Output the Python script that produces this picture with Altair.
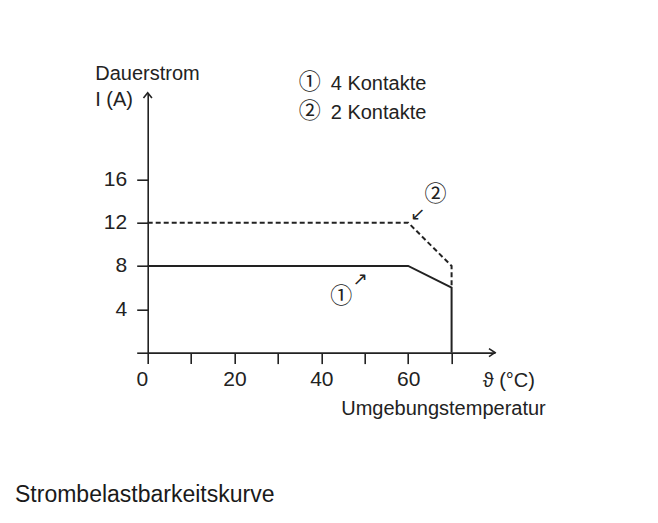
import altair as alt
import pandas as pd

# ---- data ----
temp_4k = [0, 60, 70, 70]          # 4 Kontakte (solid)
curr_4k = [8, 8, 6, 0]
temp_2k = [0, 60, 70, 70]          # 2 Kontakte (dashed)
curr_2k = [12, 12, 8, 6]
x_tick_values = [0, 10, 20, 30, 40, 50, 60, 70]
y_tick_values = [0, 4, 8, 12, 16]
legend_marks = ["\u2460", "\u2461"]
legend_texts = ["4 Kontakte", "2 Kontakte"]
annot_marks = ["\u2460", "\u2461"]
annot_t = [44.6, 66.3]
annot_i = [5.2, 14.6]
arrow_glyphs = ["\u2197", "\u2199"]
arrow_t = [49.0, 62.2]
arrow_i = [6.7, 12.7]

FONT = "Liberation Sans, Arial, sans-serif"
SYM_FONT = "Noto Sans CJK JP, DejaVu Sans, sans-serif"
ARR_FONT = "DejaVu Sans, sans-serif"
INK = "#222222"

df4 = pd.DataFrame({"t": temp_4k, "i": curr_4k, "o": range(len(temp_4k))})
df2 = pd.DataFrame({"t": temp_2k, "i": curr_2k, "o": range(len(temp_2k))})

x_enc = alt.X(
    "t:Q",
    scale=alt.Scale(domain=[0, 80], nice=False, zero=False),
    axis=alt.Axis(
        values=x_tick_values,
        labelExpr="(datum.value % 20 == 0 && datum.value <= 60) ? datum.label : ''",
        labelAlign={"condition": {"test": "datum.value == 0", "value": "right"}, "value": "center"},
        labelPadding=5,
        grid=False,
        title="Umgebungstemperatur",
        titleX=193,
        titleY=62,
        titleAlign="left",
        titleBaseline="alphabetic",
    ),
)
y_enc = alt.Y(
    "i:Q",
    scale=alt.Scale(domain=[0, 24], nice=False),
    axis=alt.Axis(
        values=y_tick_values,
        labelExpr="datum.value == 0 ? '' : datum.label",
        labelPadding=10,
        grid=False,
        title=["Dauerstrom", "I (A)"],
        titleAngle=0,
        titleAlign="left",
        titleBaseline="alphabetic",
        titleX=-53,
        titleY=-13.4,
        titleLineHeight=26.7,
    ),
)

solid = alt.Chart(df4).mark_line(color=INK, strokeWidth=2).encode(x=x_enc, y=y_enc, order="o:Q")
dashed = alt.Chart(df2).mark_line(color=INK, strokeWidth=2, strokeDash=[5, 3]).encode(
    x=x_enc, y=y_enc, order="o:Q"
)

x_arrow = alt.Chart(pd.DataFrame({"t": [80], "i": [0]})).mark_point(
    shape="M-1,-0.67L0,0L-1,0.67", size=144, filled=False, stroke=INK, strokeWidth=1.6, opacity=1
).encode(x=x_enc, y=y_enc)
y_arrow = alt.Chart(pd.DataFrame({"t": [0], "i": [24]})).mark_point(
    shape="M-0.8,1L0,0L0.8,1", size=112, filled=False, stroke=INK, strokeWidth=1.6, opacity=1
).encode(x=x_enc, y=y_enc)

annot = alt.Chart(pd.DataFrame({"t": annot_t, "i": annot_i, "s": annot_marks})).mark_text(
    font=SYM_FONT, fontSize=22, color=INK, baseline="middle", align="center"
).encode(x=x_enc, y=y_enc, text="s:N")
arrows = alt.Chart(pd.DataFrame({"t": arrow_t, "i": arrow_i, "s": arrow_glyphs})).mark_text(
    font=ARR_FONT, fontSize=18, color=INK, baseline="middle", align="center"
).encode(x=x_enc, y=y_enc, text="s:N")

leg_sym1 = alt.Chart(pd.DataFrame({"s": [legend_marks[0]]})).mark_text(
    font=SYM_FONT, fontSize=22, color=INK, baseline="middle", align="center"
).encode(x=alt.value(162), y=alt.value(-10.7), text="s:N")
leg_sym2 = alt.Chart(pd.DataFrame({"s": [legend_marks[1]]})).mark_text(
    font=SYM_FONT, fontSize=22, color=INK, baseline="middle", align="center"
).encode(x=alt.value(162), y=alt.value(18.3), text="s:N")
leg_txt1 = alt.Chart(pd.DataFrame({"s": [legend_texts[0]]})).mark_text(
    font=FONT, fontSize=20, color=INK, baseline="alphabetic", align="left"
).encode(x=alt.value(183), y=alt.value(-2.7), text="s:N")
leg_txt2 = alt.Chart(pd.DataFrame({"s": [legend_texts[1]]})).mark_text(
    font=FONT, fontSize=20, color=INK, baseline="alphabetic", align="left"
).encode(x=alt.value(183), y=alt.value(26.3), text="s:N")

unit = alt.Chart(pd.DataFrame({"s": ["\u03d1 (\u00b0C)"]})).mark_text(
    font=FONT, fontSize=20, color=INK, baseline="alphabetic", align="left"
).encode(x=alt.value(335), y=alt.value(294.5), text="s:N")

caption = alt.Chart(pd.DataFrame({"s": ["Strombelastbarkeitskurve"]})).mark_text(
    font=FONT, fontSize=23, color="#1a1a1a", baseline="alphabetic", align="left"
).encode(x=alt.value(-132.7), y=alt.value(409.5), text="s:N")

chart = (
    alt.layer(solid, dashed, x_arrow, y_arrow, annot, arrows, leg_sym1, leg_sym2, leg_txt1, leg_txt2, unit, caption)
    .properties(
        width=347.3,
        height=259.9,
        padding={"left": 139.7, "top": 84.7, "right": 154, "bottom": 161.4},
        autosize=alt.AutoSizeParams(type="none"),
        background="white",
    )
    .configure_view(stroke=None)
    .configure_axis(
        domainColor=INK,
        tickColor=INK,
        domainWidth=1.6,
        tickWidth=1.6,
        tickSize=11,
        labelFont=FONT,
        labelFontSize=21,
        labelColor=INK,
        titleFont=FONT,
        titleFontSize=20,
        titleFontWeight="normal",
        titleColor=INK,
    )
)

chart.save("out.html", embed_options={"renderer": "svg", "actions": False})
